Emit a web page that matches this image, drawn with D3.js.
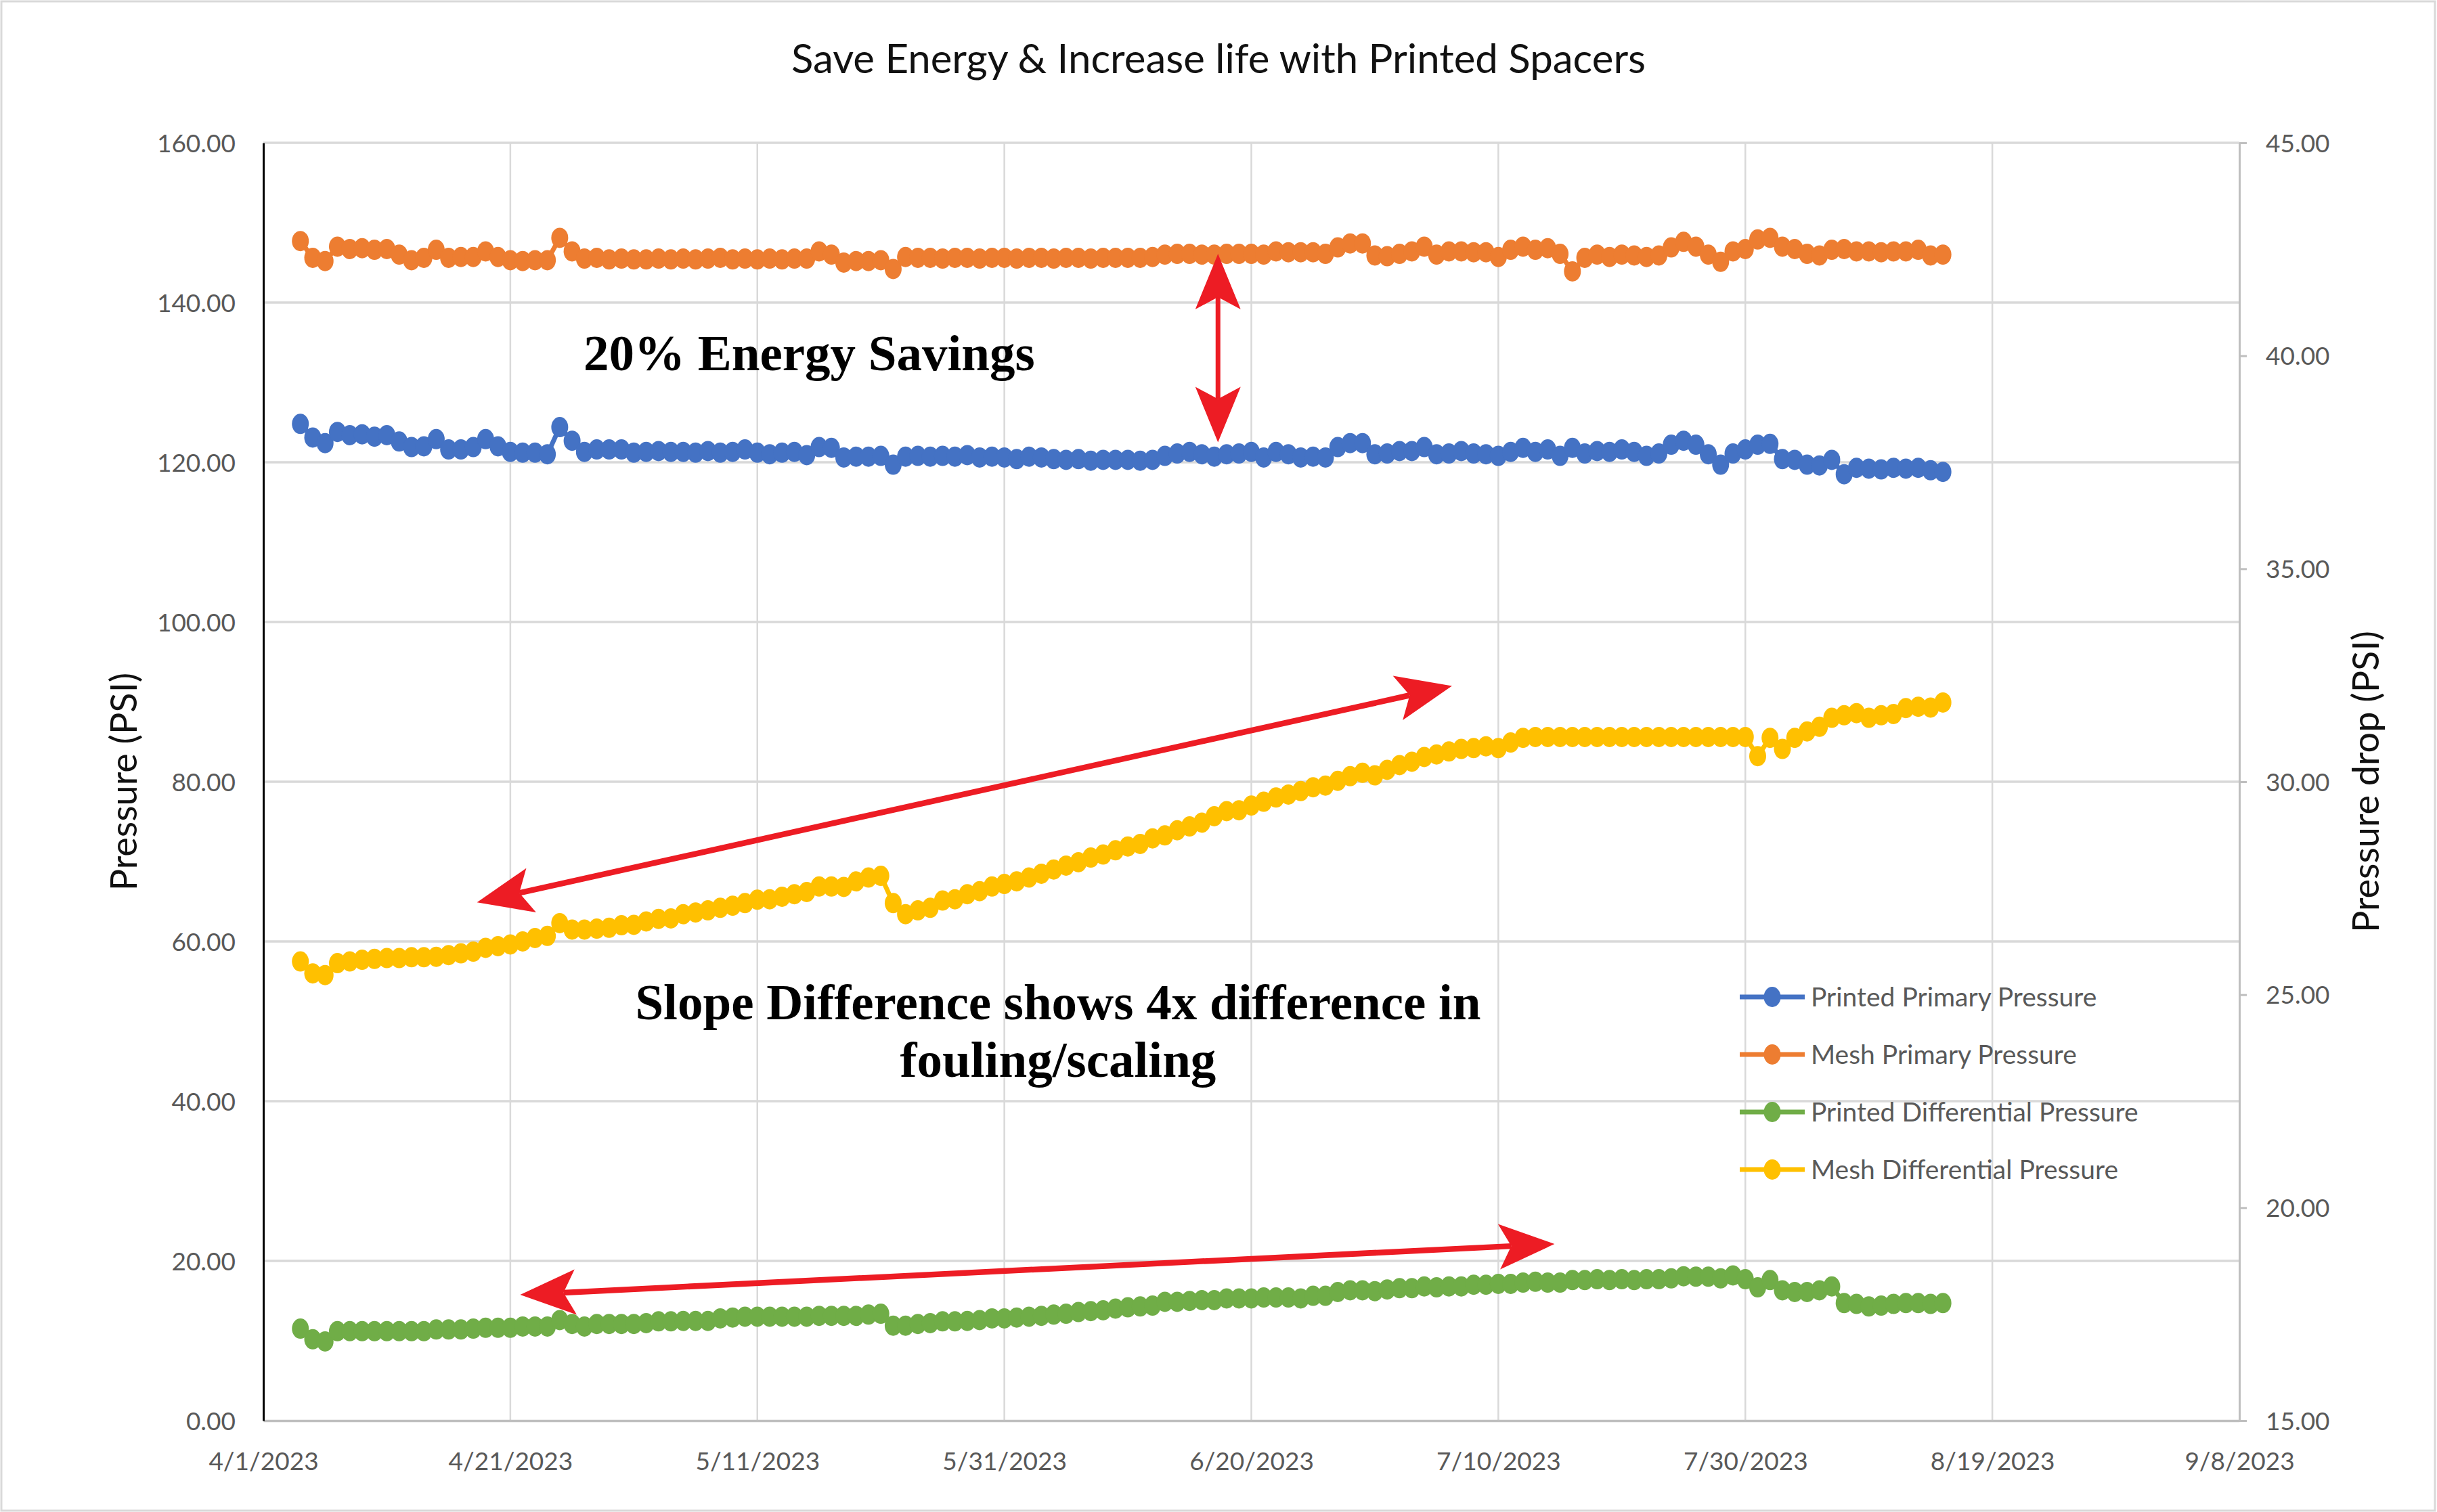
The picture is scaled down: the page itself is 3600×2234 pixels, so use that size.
<!DOCTYPE html>
<html><head><meta charset="utf-8">
<script src="https://cdn.jsdelivr.net/npm/d3@7"></script>
<style>html,body{margin:0;padding:0;background:#fff}svg{display:block}</style>
</head><body>
<svg id="chart" width="3600" height="2234"></svg>
<script>
// ---------- data ----------
const firstDay = "4/4/2023";
const lastDay = "8/15/2023";   // daily readings, inclusive

const printedPrimary = [
124.8,123.1,122.4,123.8,123.4,123.5,123.2,123.4,122.6,121.9,122.0,122.9,121.6,121.6,121.9,122.9,122.0,121.3,121.2,121.2,121.0,
124.4,122.7,121.3,121.6,121.6,121.6,121.2,121.3,121.4,121.3,121.3,121.2,121.4,121.2,121.3,121.6,121.2,121.0,121.2,121.3,120.9,121.9,121.8,120.6,120.7,120.7,120.8,
119.7,120.7,120.8,120.7,120.8,120.7,120.9,120.6,120.7,120.6,120.4,120.7,120.6,120.4,120.3,120.4,120.2,120.3,120.3,
120.3,120.2,120.3,120.8,121.1,121.3,121.0,120.7,121.0,121.1,121.3,120.6,121.3,121.0,120.6,120.7,120.6,121.9,122.4,122.4,
121.0,121.1,121.4,121.4,121.9,121.0,121.1,121.4,121.1,121.0,120.8,121.3,121.8,121.3,121.6,120.8,121.8,121.1,121.4,121.3,
121.6,121.3,120.8,121.1,122.2,122.7,122.2,121.0,119.7,121.1,121.6,122.2,122.3,120.4,120.3,119.7,119.6,120.3,118.5,119.3,
119.2,119.1,119.3,119.2,119.3,119.0,118.8];

const meshPrimary = [
147.7,145.6,145.2,147.0,146.7,146.8,146.6,146.7,146.0,145.3,145.6,146.6,145.6,145.7,145.7,146.4,145.7,145.3,145.2,145.3,145.3,
148.1,146.4,145.5,145.6,145.4,145.5,145.4,145.4,145.5,145.4,145.5,145.4,145.5,145.6,145.4,145.5,145.4,145.5,145.4,145.5,145.5,146.4,146.0,145.0,145.2,145.2,145.3,
144.2,145.7,145.6,145.6,145.5,145.6,145.6,145.5,145.6,145.6,145.5,145.6,145.6,145.5,145.6,145.6,145.5,145.6,145.6,
145.6,145.6,145.7,146.0,146.1,146.1,146.0,146.0,146.1,146.1,146.1,146.0,146.4,146.3,146.3,146.3,146.1,146.9,147.4,147.4,
145.9,145.8,146.1,146.4,147.0,146.0,146.4,146.4,146.3,146.3,145.7,146.6,147.0,146.6,146.8,146.1,143.9,145.6,146.0,145.7,
146.0,145.9,145.7,145.9,146.9,147.6,147.0,146.0,145.1,146.4,146.7,147.9,148.1,147.0,146.7,146.1,145.9,146.6,146.7,146.4,
146.4,146.3,146.4,146.4,146.6,145.9,146.0];

// differential pressures, read on the right axis (Pressure drop, PSI)
const printedDifferential = [
17.16,16.91,16.86,17.10,17.10,17.10,17.10,17.10,17.10,17.10,17.10,17.14,17.14,17.14,17.16,17.18,17.18,17.18,17.21,17.21,17.21,
17.36,17.27,17.21,17.27,17.27,17.27,17.27,17.29,17.33,17.33,17.34,17.34,17.34,17.40,17.42,17.44,17.44,17.44,17.44,17.44,17.44,17.46,17.46,17.46,17.46,17.49,17.51,
17.23,17.23,17.27,17.29,17.33,17.33,17.34,17.36,17.40,17.40,17.42,17.44,17.46,17.49,17.51,17.55,17.57,17.59,17.63,
17.66,17.68,17.70,17.79,17.79,17.81,17.83,17.83,17.87,17.87,
17.87,17.89,17.89,17.89,17.87,17.93,17.93,18.02,18.06,18.06,
18.04,18.08,18.11,18.11,18.15,18.13,18.15,18.15,18.19,18.19,
18.21,18.21,18.24,18.26,18.24,18.24,18.30,18.30,18.32,18.30,
18.32,18.30,18.32,18.32,18.34,18.39,18.38,18.38,18.34,18.41,
18.32,18.13,18.30,18.06,18.02,18.02,18.06,18.15,17.76,17.74,
17.68,17.70,17.74,17.76,17.76,17.74,17.76];

const meshDifferential = [
25.78,25.50,25.46,25.74,25.78,25.82,25.84,25.86,25.86,25.88,25.88,25.89,25.93,25.97,26.01,26.10,26.14,26.18,26.25,26.33,26.38,
26.68,26.53,26.53,26.55,26.57,26.63,26.64,26.72,26.78,26.79,26.89,26.93,26.98,27.04,27.09,27.15,27.23,27.24,27.30,27.36,27.41,27.54,27.54,27.53,27.66,27.75,27.79,
27.15,26.89,26.98,27.04,27.21,27.24,27.36,27.43,27.54,27.60,27.66,27.75,27.84,27.94,28.03,28.11,28.22,28.29,28.39,
28.48,28.54,28.67,28.74,28.86,28.95,29.04,29.19,29.31,29.33,29.44,29.53,29.63,29.70,29.78,29.87,29.91,30.02,30.13,30.21,
30.15,30.28,30.39,30.47,30.58,30.64,30.71,30.77,30.79,30.83,30.79,30.92,31.03,31.05,
31.05,31.05,31.05,31.05,31.05,31.05,31.05,31.05,31.05,31.05,31.05,31.05,31.05,31.05,31.05,31.05,31.05,
30.60,31.03,30.77,31.03,31.18,31.29,31.50,31.56,31.61,31.50,31.56,31.59,31.73,31.76,31.74,31.86];

const xTickLabels = ["4/1/2023","4/21/2023","5/11/2023","5/31/2023","6/20/2023","7/10/2023","7/30/2023","8/19/2023","9/8/2023"];
const leftTicks = [0,20,40,60,80,100,120,140,160];
const rightTicks = [15,20,25,30,35,40,45];

const seriesNames = ["Printed Primary Pressure","Mesh Primary Pressure","Printed Differential Pressure","Mesh Differential Pressure"];
const seriesColors = ["#4472C4","#ED7D31","#70AD47","#FFC000"];
const seriesAxis = ["left","left","right","right"];

const titleText = "Save Energy & Increase life with Printed Spacers";
const leftTitle = "Pressure (PSI)";
const rightTitle = "Pressure drop (PSI)";

// annotations in data coordinates: days after 4/1/2023, left-axis value
const arrowsData = [
  {d1: 77.3, v1: 146.1, d2: 77.3, v2: 122.5, w: 7},
  {d1: 17.3, v1: 64.9, d2: 96.25, v2: 92.0, w: 8.5},
  {d1: 20.8, v1: 15.76, d2: 104.55, v2: 22.12, w: 8.5}
];
const noteTexts = [
  {d: 44.2, v: 131.5, text: "20% Energy Savings"},
  {d: 64.35, v: 50.25, text: "Slope Difference shows 4x difference in"},
  {d: 64.35, v: 43.05, text: "fouling/scaling"}
];

// ---------- layout ----------
const W = 3600, H = 2234;
const plot = {left: 389, right: 3308, top: 211, bottom: 2099};
const font = "Lato, 'Open Sans', 'Liberation Sans', sans-serif";
const serif = "'Liberation Serif', 'Times New Roman', serif";
const RX = 12.5, RY = 15, LW = 7;

function parseMDY(s){ const [m,d,y] = s.split("/").map(Number); return new Date(y, m-1, d); }
const dates = d3.timeDay.range(parseMDY(firstDay), d3.timeDay.offset(parseMDY(lastDay), 1));
const xTicks = xTickLabels.map(parseMDY);
const origin = xTicks[0];
const dayToDate = d => new Date(origin.getTime() + d*864e5);

const x = d3.scaleTime().domain([xTicks[0], xTicks[xTicks.length-1]]).range([plot.left, plot.right]);
const yL = d3.scaleLinear().domain([0,160]).range([plot.bottom, plot.top]);
const yR = d3.scaleLinear().domain([15,45]).range([plot.bottom, plot.top]);

const svg = d3.select("#chart");
svg.append("rect").attr("width", W).attr("height", H).attr("fill", "#fff");
svg.append("rect").attr("x", 2).attr("y", 2).attr("width", W-5).attr("height", H-4)
  .attr("fill", "none").attr("stroke", "#d9d9d9").attr("stroke-width", 3);

// gridlines
const grid = svg.append("g");
grid.selectAll("line.h").data(leftTicks.slice(1)).join("line")
  .attr("x1", plot.left).attr("x2", plot.right)
  .attr("y1", d => yL(d)).attr("y2", d => yL(d))
  .attr("stroke", "#d9d9d9").attr("stroke-width", 3.5);
grid.selectAll("line.v").data(xTicks.slice(1, -1)).join("line")
  .attr("x1", d => x(d)).attr("x2", d => x(d))
  .attr("y1", plot.top).attr("y2", plot.bottom)
  .attr("stroke", "#d9d9d9").attr("stroke-width", 2.5);

// bottom axis
const fmt = d3.format(".2f");
const xAxis = svg.append("g").attr("transform", `translate(0,${plot.bottom})`)
  .call(d3.axisBottom(x).tickValues(xTicks).tickSize(0).tickSizeOuter(0)
    .tickFormat((d,i) => xTickLabels[i]));
xAxis.select(".domain").attr("stroke", "#bfbfbf").attr("stroke-width", 3.5);
xAxis.selectAll("text").attr("y", 73).attr("dy", 0)
  .attr("font-family", font).attr("font-size", 37).attr("fill", "#595959");

// left axis
const lAxis = svg.append("g").attr("transform", `translate(${plot.left},0)`)
  .call(d3.axisLeft(yL).tickValues(leftTicks).tickSize(0).tickSizeOuter(0).tickPadding(41).tickFormat(fmt));
lAxis.select(".domain").attr("stroke", "#000").attr("stroke-width", 3);
lAxis.selectAll("text").attr("dy", "0.36em")
  .attr("font-family", font).attr("font-size", 37).attr("fill", "#595959");

// right axis
const rAxis = svg.append("g").attr("transform", `translate(${plot.right},0)`)
  .call(d3.axisRight(yR).tickValues(rightTicks).tickSize(11).tickSizeOuter(0).tickPadding(28).tickFormat(fmt));
rAxis.select(".domain").attr("stroke", "#bfbfbf").attr("stroke-width", 3);
rAxis.selectAll(".tick line").attr("stroke", "#bfbfbf").attr("stroke-width", 3);
rAxis.selectAll("text").attr("dy", "0.36em")
  .attr("font-family", font).attr("font-size", 37).attr("fill", "#595959");

// axis titles
svg.append("text").attr("transform", `translate(202,1155) rotate(-90)`)
  .attr("text-anchor", "middle").attr("font-family", font).attr("font-size", 54)
  .attr("fill", "#111").text(leftTitle);
svg.append("text").attr("transform", `translate(3514,1155) rotate(-90)`)
  .attr("text-anchor", "middle").attr("font-family", font).attr("font-size", 54)
  .attr("fill", "#111").text(rightTitle);

// title
svg.append("text").attr("x", 1800).attr("y", 108).attr("text-anchor", "middle")
  .attr("font-family", font).attr("font-size", 60).attr("fill", "#111").text(titleText);

// series
const allSeries = [printedPrimary, meshPrimary, printedDifferential, meshDifferential];
allSeries.forEach((vals, s) => {
  const ys = seriesAxis[s] === "left" ? yL : yR;
  const pts = vals.map((v, i) => ({date: dates[i], v})).filter(p => p.date);
  const g = svg.append("g");
  g.append("path").datum(pts)
    .attr("d", d3.line().x(p => x(p.date)).y(p => ys(p.v)))
    .attr("fill", "none").attr("stroke", seriesColors[s]).attr("stroke-width", LW)
    .attr("stroke-linejoin", "round");
  g.selectAll("ellipse").data(pts).join("ellipse")
    .attr("cx", p => x(p.date)).attr("cy", p => ys(p.v))
    .attr("rx", RX).attr("ry", RY).attr("fill", seriesColors[s]);
});

// legend
const legend = svg.append("g");
seriesNames.forEach((name, s) => {
  const ly = 1473 + s*85;
  legend.append("line").attr("x1", 2570).attr("x2", 2666).attr("y1", ly).attr("y2", ly)
    .attr("stroke", seriesColors[s]).attr("stroke-width", LW);
  legend.append("ellipse").attr("cx", 2618).attr("cy", ly).attr("rx", RX).attr("ry", RY)
    .attr("fill", seriesColors[s]);
  legend.append("text").attr("x", 2675).attr("y", ly).attr("dy", "0.36em")
    .attr("font-family", font).attr("font-size", 39).attr("fill", "#595959").text(name);
});

// annotation arrows (double-headed, red)
const red = "#ED1C24";
const HL = 82, HW = 67, HN = 64;
const ann = svg.append("g");
arrowsData.forEach(a => {
  const p1 = [x(dayToDate(a.d1)), yL(a.v1)];
  const p2 = [x(dayToDate(a.d2)), yL(a.v2)];
  const dx = p2[0]-p1[0], dy = p2[1]-p1[1], len = Math.hypot(dx, dy);
  const u = [dx/len, dy/len], n = [-u[1], u[0]];
  const head = (tip, dir) => [
    tip,
    [tip[0]+dir[0]*HL+n[0]*HW/2, tip[1]+dir[1]*HL+n[1]*HW/2],
    [tip[0]+dir[0]*HN, tip[1]+dir[1]*HN],
    [tip[0]+dir[0]*HL-n[0]*HW/2, tip[1]+dir[1]*HL-n[1]*HW/2]
  ];
  const h1 = head(p1, u), h2 = head(p2, [-u[0], -u[1]]);
  ann.append("line").attr("x1", h1[2][0]).attr("y1", h1[2][1]).attr("x2", h2[2][0]).attr("y2", h2[2][1])
    .attr("stroke", red).attr("stroke-width", a.w);
  [h1, h2].forEach(h => ann.append("polygon").attr("points", h.map(p => p.join(",")).join(" ")).attr("fill", red));
});

// annotation texts
noteTexts.forEach(t => {
  svg.append("text").attr("x", x(dayToDate(t.d))).attr("y", yL(t.v)).attr("text-anchor", "middle")
    .attr("font-family", serif).attr("font-weight", "bold").attr("font-size", 75).attr("fill", "#000")
    .text(t.text);
});
</script>
</body></html>
